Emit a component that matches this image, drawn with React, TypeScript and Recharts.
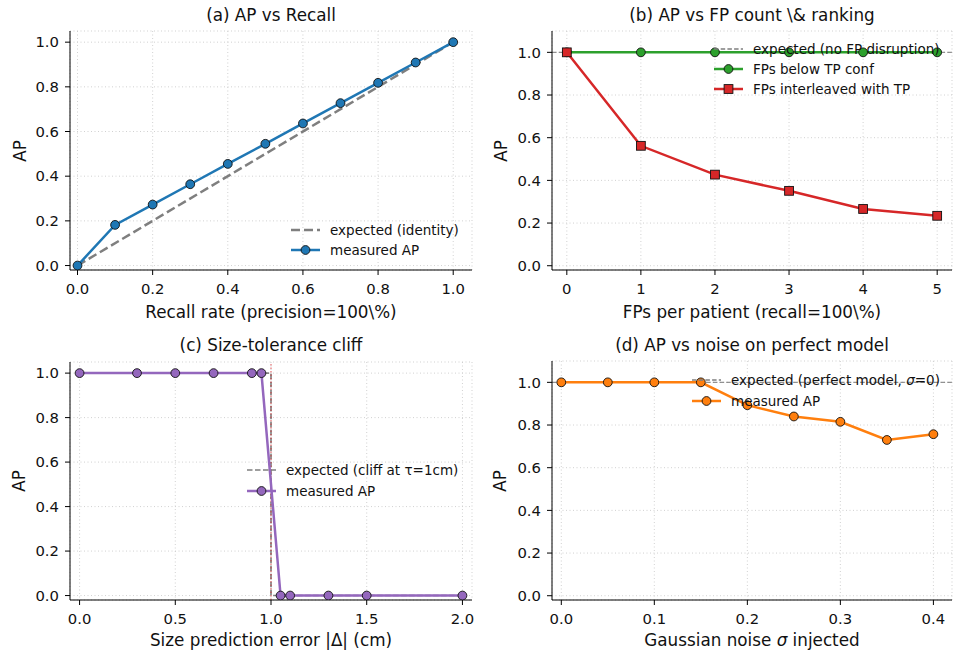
import React from "react";
import {
  LineChart,
  Line,
  XAxis,
  YAxis,
  CartesianGrid,
  ReferenceLine,
} from "recharts";

// (a) AP vs recall
const recallRates = [0, 0.1, 0.2, 0.3, 0.4, 0.5, 0.6, 0.7, 0.8, 0.9, 1.0];
const recallAP = [0, 0.182, 0.273, 0.364, 0.455, 0.545, 0.636, 0.727, 0.818, 0.909, 1.0];
const identityX = [0, 1];
const identityY = [0, 1];

// (b) AP vs FP count
const fpCounts = [0, 1, 2, 3, 4, 5];
const fpBelowAP = [1, 1, 1, 1, 1, 1];
const fpInterleavedAP = [1.0, 0.562, 0.427, 0.351, 0.266, 0.234];

// (c) size tolerance cliff
const sizeErrors = [0, 0.3, 0.5, 0.7, 0.9, 0.95, 1.05, 1.1, 1.3, 1.5, 2.0];
const sizeAP = [1, 1, 1, 1, 1, 1, 0, 0, 0, 0, 0];
const cliffX = [0, 1, 1, 2];
const cliffY = [1, 1, 0, 0];

// (d) noise on perfect model
const noiseSigma = [0, 0.05, 0.1, 0.15, 0.2, 0.25, 0.3, 0.35, 0.4];
const noiseAP = [1, 1, 1, 1, 0.893, 0.84, 0.815, 0.73, 0.757];

const apTicks = [0, 0.2, 0.4, 0.6, 0.8, 1.0];

const BLUE = "#1f77b4";
const GREEN = "#2ca02c";
const RED = "#d62728";
const PURPLE = "#9467bd";
const ORANGE = "#ff7f0e";
const GREY = "#7f7f7f";
const INK = "#111";
const FONT = "DejaVu Sans, sans-serif";
const LW = 2.5;

const zip = (xs: number[], ys: number[]) => xs.map((x, i) => ({ x, y: ys[i] }));

const tickStyle = { fontSize: 14.8, fill: INK, fontFamily: FONT };

const circleDot = (color: string) => ({
  r: 4.4,
  fill: color,
  stroke: "#111",
  strokeWidth: 0.9,
});

const squareDot = (props: any) => {
  const { cx, cy, index } = props;
  if (cx == null || cy == null) return <g key={`sq-${index}`} />;
  return (
    <rect
      key={`sq-${index}`}
      x={cx - 4.4}
      y={cy - 4.4}
      width={8.8}
      height={8.8}
      fill={RED}
      stroke="#111"
      strokeWidth={0.9}
    />
  );
};

type LegendRow = {
  label: React.ReactNode;
  color: string;
  dash?: string;
  width?: number;
  marker?: "circle" | "square";
};

function LegendBox({
  left,
  top,
  rows,
  gap,
}: {
  left: number;
  top: number;
  rows: LegendRow[];
  gap: number;
}) {
  return (
    <svg
      width={260}
      height={rows.length * gap + 10}
      style={{ position: "absolute", left, top: top - 10, overflow: "visible" }}
    >
      {rows.map((r, i) => {
        const y = 10 + i * gap;
        return (
          <g key={i}>
            <line
              x1={0}
              x2={29}
              y1={y}
              y2={y}
              stroke={r.color}
              strokeWidth={r.width ?? LW}
              strokeDasharray={r.dash}
            />
            {r.marker === "circle" && (
              <circle cx={14.5} cy={y} r={4.4} fill={r.color} stroke="#111" strokeWidth={0.9} />
            )}
            {r.marker === "square" && (
              <rect x={10.1} y={y - 4.4} width={8.8} height={8.8} fill={r.color} stroke="#111" strokeWidth={0.9} />
            )}
            <text x={39} y={y} dy="0.35em" fontSize={13.5} fill={INK} fontFamily={FONT}>
              {r.label}
            </text>
          </g>
        );
      })}
    </svg>
  );
}

function Txt({
  x,
  y,
  size = 16.8,
  rotate = false,
  children,
}: {
  x: number;
  y: number;
  size?: number;
  rotate?: boolean;
  children: React.ReactNode;
}) {
  return (
    <div
      style={{
        position: "absolute",
        left: x,
        top: y,
        transform: `translate(-50%, -50%)${rotate ? " rotate(-90deg)" : ""}`,
        fontSize: size,
        fontFamily: FONT,
        color: INK,
        whiteSpace: "nowrap",
        lineHeight: 1,
      }}
    >
      {children}
    </div>
  );
}

function Panel({
  left,
  top,
  width,
  height,
  margin,
  yWidth,
  xDomain,
  yDomain,
  xTicks,
  xFmt,
  children,
}: {
  left: number;
  top: number;
  width: number;
  height: number;
  margin: { top: number; right: number; bottom: number; left: number };
  yWidth: number;
  xDomain: [number, number];
  yDomain: [number, number];
  xTicks: number[];
  xFmt: (v: number) => string;
  children: React.ReactNode;
}) {
  return (
    <div style={{ position: "absolute", left, top }}>
      <LineChart width={width} height={height} margin={margin}>
        <CartesianGrid stroke="#cccccc" strokeDasharray="1 2.5" strokeWidth={0.9} />
        <XAxis
          type="number"
          dataKey="x"
          domain={xDomain}
          ticks={xTicks}
          allowDataOverflow
          tickFormatter={xFmt}
          height={30}
          tickSize={5}
          tickMargin={8}
          stroke="#000"
          tick={tickStyle}
          interval={0}
        />
        <YAxis
          type="number"
          dataKey="y"
          domain={yDomain}
          ticks={apTicks}
          allowDataOverflow
          tickFormatter={(v: number) => v.toFixed(1)}
          width={yWidth}
          tickSize={5}
          tickMargin={6}
          stroke="#000"
          tick={tickStyle}
          interval={0}
        />
        {children}
      </LineChart>
    </div>
  );
}

export default function App() {
  return (
    <div
      style={{
        position: "absolute",
        left: 0,
        top: 0,
        width: 953,
        height: 654,
        background: "#fff",
        fontFamily: FONT,
      }}
    >
      {/* (a) */}
      <Panel
        left={0}
        top={0}
        width={476}
        height={327}
        margin={{ top: 31, right: 4, bottom: 27, left: 0 }}
        yWidth={70}
        xDomain={[-0.02, 1.05]}
        yDomain={[-0.02, 1.05]}
        xTicks={[0, 0.2, 0.4, 0.6, 0.8, 1.0]}
        xFmt={(v) => v.toFixed(1)}
      >
        <Line
          data={zip(identityX, identityY)}
          dataKey="y"
          stroke={GREY}
          strokeWidth={2.5}
          strokeDasharray="9 4"
          dot={false}
          isAnimationActive={false}
        />
        <Line
          data={zip(recallRates, recallAP)}
          dataKey="y"
          stroke={BLUE}
          strokeWidth={LW}
          dot={circleDot(BLUE)}
          isAnimationActive={false}
        />
      </Panel>
      <Txt x={271} y={15}>(a) AP vs Recall</Txt>
      <Txt x={271} y={312}>Recall rate (precision=100\%)</Txt>
      <Txt x={20} y={151} rotate>AP</Txt>
      <LegendBox
        left={291}
        top={230}
        gap={20}
        rows={[
          { label: "expected (identity)", color: GREY, dash: "9 4", width: 2.5 },
          { label: "measured AP", color: BLUE, marker: "circle" },
        ]}
      />

      {/* (b) */}
      <Panel
        left={476}
        top={0}
        width={477}
        height={327}
        margin={{ top: 31, right: 1, bottom: 27, left: 0 }}
        yWidth={76}
        xDomain={[-0.2, 5.2]}
        yDomain={[-0.02, 1.1]}
        xTicks={fpCounts}
        xFmt={(v) => String(v)}
      >
        <ReferenceLine y={1} stroke={GREY} strokeWidth={1.3} strokeDasharray="4.5 2.2" strokeOpacity={0.85} />
        <Line
          data={zip(fpCounts, fpBelowAP)}
          dataKey="y"
          stroke={GREEN}
          strokeWidth={LW}
          dot={circleDot(GREEN)}
          isAnimationActive={false}
        />
        <Line
          data={zip(fpCounts, fpInterleavedAP)}
          dataKey="y"
          stroke={RED}
          strokeWidth={LW}
          dot={squareDot}
          isAnimationActive={false}
        />
      </Panel>
      <Txt x={752} y={15}>(b) AP vs FP count \&amp; ranking</Txt>
      <Txt x={752} y={312}>FPs per patient (recall=100\%)</Txt>
      <Txt x={501} y={151} rotate>AP</Txt>
      <LegendBox
        left={714}
        top={49}
        gap={20}
        rows={[
          { label: "expected (no FP disruption)", color: GREY, dash: "4.5 2.2", width: 1.3 },
          { label: "FPs below TP conf", color: GREEN, marker: "circle" },
          { label: "FPs interleaved with TP", color: RED, marker: "square" },
        ]}
      />

      {/* (c) */}
      <Panel
        left={0}
        top={327}
        width={476}
        height={327}
        margin={{ top: 35, right: 4, bottom: 24, left: 0 }}
        yWidth={70}
        xDomain={[-0.05, 2.05]}
        yDomain={[-0.02, 1.05]}
        xTicks={[0, 0.5, 1.0, 1.5, 2.0]}
        xFmt={(v) => v.toFixed(1)}
      >
        <Line
          data={zip(cliffX, cliffY)}
          dataKey="y"
          stroke={GREY}
          strokeWidth={1.6}
          strokeDasharray="5.5 2.5"
          dot={false}
          isAnimationActive={false}
        />
        <ReferenceLine x={1} stroke={RED} strokeWidth={1} strokeDasharray="1.5 2" strokeOpacity={0.8} />
        <Line
          data={zip(sizeErrors, sizeAP)}
          dataKey="y"
          stroke={PURPLE}
          strokeWidth={LW}
          dot={circleDot(PURPLE)}
          isAnimationActive={false}
        />
      </Panel>
      <Txt x={271} y={345}>(c) Size-tolerance cliff</Txt>
      <Txt x={271} y={640}>Size prediction error |Δ| (cm)</Txt>
      <Txt x={19} y={481} rotate>AP</Txt>
      <LegendBox
        left={247}
        top={470}
        gap={21}
        rows={[
          { label: "expected (cliff at τ=1cm)", color: GREY, dash: "5.5 2.5", width: 1.6 },
          { label: "measured AP", color: PURPLE, marker: "circle" },
        ]}
      />

      {/* (d) */}
      <Panel
        left={476}
        top={327}
        width={477}
        height={327}
        margin={{ top: 34, right: 1, bottom: 24, left: 0 }}
        yWidth={76}
        xDomain={[-0.01, 0.42]}
        yDomain={[-0.02, 1.1]}
        xTicks={[0, 0.1, 0.2, 0.3, 0.4]}
        xFmt={(v) => v.toFixed(1)}
      >
        <ReferenceLine y={1} stroke={GREY} strokeWidth={1.3} strokeDasharray="4.5 2.2" strokeOpacity={0.85} />
        <Line
          data={zip(noiseSigma, noiseAP)}
          dataKey="y"
          stroke={ORANGE}
          strokeWidth={LW}
          dot={circleDot(ORANGE)}
          isAnimationActive={false}
        />
      </Panel>
      <Txt x={752} y={345}>(d) AP vs noise on perfect model</Txt>
      <Txt x={752} y={640}>
        Gaussian noise <i>σ</i> injected
      </Txt>
      <Txt x={500} y={481} rotate>AP</Txt>
      <LegendBox
        left={692}
        top={380}
        gap={21}
        rows={[
          {
            label: (
              <>
                expected (perfect model, <tspan fontStyle="italic">σ</tspan>=0)
              </>
            ),
            color: GREY,
            dash: "4.5 2.2",
            width: 1.3,
          },
          { label: "measured AP", color: ORANGE, marker: "circle" },
        ]}
      />
    </div>
  );
}
